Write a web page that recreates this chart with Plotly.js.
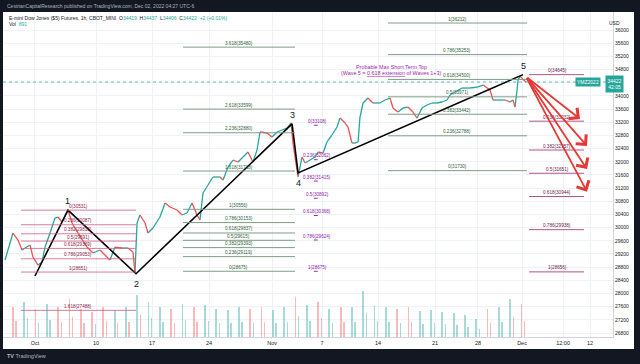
<!DOCTYPE html>
<html><head><meta charset="utf-8">
<script src="https://cdn.plot.ly/plotly-3.0.1.min.js"></script>
<style>html,body{margin:0;padding:0;background:#131722;}#chart{width:640px;height:364px;}</style>
</head><body><div id="chart"></div>
<script>
// ---------------- DATA ----------------
// x unit = trading session (day) index, 0 = session of Mon Oct 3
const priceDay = [-3.05,-2.35,-1.90,-1.55,-0.84,-0.58,-0.13,0.22,0.49,0.93,
1.37,1.64,1.99,2.52,2.88,3.41,4.20,4.73,5.35,5.97,
6.24,6.68,7.30,7.83,8.27,8.45,8.63,8.89,9.34,9.60,
10.04,10.66,11.11,11.55,12.17,12.61,13.05,13.50,13.94,14.20,
14.47,14.91,15.35,15.97,16.24,16.68,17.12,17.57,18.01,18.45,
18.89,19.25,19.51,20.13,20.58,21.02,21.46,21.90,22.26,22.43,
22.61,22.88,23.23,23.50,23.94,24.38,24.65,25.09,25.44,25.88,
26.33,26.59,27.04,27.30,27.65,27.92,28.19,28.36,28.63,29.07,
29.51,30.13,30.58,31.02,31.28,31.73,32.17,32.61,33.05,33.41,
33.85,34.29,34.73,35.18,35.62,36.06,36.33,36.77,37.39,38.10,
38.72,39.25,39.87,40.13,40.58,41.19,41.64,41.90,42.08,42.26,
42.35,42.52,42.79,43.05];
const priceClose = [29017,29836,29624,29320,29472,29108,28864,28956,29411,29836,
30292,30322,30170,30535,30140,29836,29411,29229,29320,29108,
29017,29411,29381,29381,29260,28622,30140,30383,30140,29836,
29988,30322,30747,30626,30535,30383,30444,30747,30383,30231,
31051,31294,31537,31537,31446,31840,32053,31992,32144,32296,
31992,32357,32903,32873,32751,32903,32964,33024,33180,32569,
32144,31550,32144,31962,32053,32144,32296,32265,32600,32812,
33055,33328,33176,33055,32569,32569,32600,33358,33784,33935,
33784,33784,33875,33935,33632,33510,33632,33662,33510,33328,
33632,33723,33784,33784,33814,33875,34026,34117,34239,34239,
34269,34330,34178,33875,33875,33875,33814,33875,33662,34178,
34481,34600,34500,34422];

const volDay = [-3,-2,-1,0,1,2,3,4,5,6,7,8,9,10,11,12,13,14,15,16,17,18,19,20,21,22,23,24,25,26,27,28,29,30,31,32,33,34,35,36,37,38,39,40,41,42];
// cash-open spike of each session
const volOpen = [25800,30100,24100,28400,25800,32700,24100,21500,25800,23200,
25800,36100,30100,25800,24100,28400,25800,27500,24100,23200,
25800,24100,25800,23200,25800,34400,27500,30100,24100,25800,
25800,39600,27500,25800,24100,25800,22400,23200,21500,20600,
18900,15500,24100,25800,32700,28400];
// cash-close spike of each session
const volClose = [14000,16000,12000,15000,13000,17000,12000,11000,14000,12000,
13000,19000,16000,13000,12000,15000,13000,14000,12000,12000,
13000,12000,13000,12000,13000,18000,14000,16000,12000,13000,
13000,21000,14000,13000,12000,13000,11000,12000,11000,10000,
9000,7000,12000,13000,17000,14000];

const waveDay   = [-0.40, 2.52, 8.54, 22.35, 22.88, 42.79];
const wavePrice = [28531, 30531, 28600, 33150, 31660, 34645];
const waveLabel = ['', '1', '2', '3', '4', '5'];

const timeTickDay  = [-0.40, 5.0, 9.96, 15.0, 20.58, 25.0, 29.96, 35.0, 38.8, 42.7, 46.33, 48.72];
const timeTickText = ['Oct','10','17','24','Nov','7','14','21','28','Dec','12:00','12'];
const priceTickVal = [26800,27200,27600,28000,28400,28800,29200,29600,30000,30400,30800,31200,31600,32000,32400,32800,33200,33600,34000,34400,34800,35200,35600,36000];
const priceTickText = ['26800','27200','27600','28000','28400','28800','29200','29600','30000','30400','30800','31200','31600','32000','32400','32800','33200','33600','34000','','34800','35200','35600','36000'];

const fibA_ratio = [0,0.236,0.382,0.5,0.618,0.786,1,1.618];
const fibA_price = [30531,30087,29813,29591,29369,29053,28651,27488];
const fibB_ratio = [0,0.236,0.382,0.5,0.618,0.786,1,1.618,2.236,2.618,3.618];
const fibB_price = [28675,29119,29393,29615,29837,30153,30556,31718,32880,33599,35480];
const fibC_ratio = [0,0.236,0.382,0.5,0.618,0.786,1];
const fibC_price = [33108,32062,31415,30892,30368,29624,28675];
const fibD_ratio = [0,0.236,0.382,0.5,0.618,0.786,1];
const fibD_price = [31730,32788,33442,33971,34500,35253,36212];
const fibE_ratio = [0,0.236,0.382,0.5,0.618,0.786,1];
const fibE_price = [34645,33232,32357,31651,30944,29938,28656];

const arrowTipDay   = [47.83, 48.45, 48.45, 48.45];
const arrowTipPrice = [33300, 32480, 31780, 31090];
const lastPrice = 34422;

// ---------------- LAYOUT HELPERS ----------------
const W = 640, H = 364, M = {l:3, r:27, t:12, b:27};
const pxX = p => (p - M.l) / (W - M.l - M.r);
const pxY = p => (H - M.b - p) / (H - M.t - M.b);
const UP = '#26a69a', DN = '#ef5350';
const FONT = 'Liberation Sans, Arial, sans-serif';

// price path split into up / down segments
const upX=[],upY=[],dnX=[],dnY=[];
for (let i=1;i<priceDay.length;i++){
  const up = priceClose[i] >= priceClose[i-1];
  (up?upX:dnX).push(priceDay[i-1], priceDay[i], null);
  (up?upY:dnY).push(priceClose[i-1], priceClose[i], null);
}
// volume colours from the price move around each spike
function volColors(xs){
  return xs.map(x => {
    let i = priceDay.findIndex(d => d > x);
    if (i <= 0) i = priceDay.length - 1;
    return priceClose[i] >= priceClose[i-1] ? 'rgba(38,166,154,0.4)' : 'rgba(239,83,80,0.4)';
  });
}
const volOpenX = volDay.map(d => d + 0.65);
const volCloseX = volDay.map(d => d + 0.93);

const traces = [
  {type:'bar', x:volOpenX, y:volOpen, yaxis:'y2', width:0.16, marker:{color:volColors(volOpenX), line:{width:0}}, hoverinfo:'skip'},
  {type:'bar', x:volCloseX, y:volClose, yaxis:'y2', width:0.12, marker:{color:volColors(volCloseX), line:{width:0}}, hoverinfo:'skip'},
  {type:'scatter', mode:'lines', x:upX, y:upY, line:{color:UP, width:1.3}, connectgaps:false, hoverinfo:'skip'},
  {type:'scatter', mode:'lines', x:dnX, y:dnY, line:{color:DN, width:1.3}, connectgaps:false, hoverinfo:'skip'},
  {type:'scatter', mode:'lines', x:waveDay, y:wavePrice, line:{color:'#000000', width:1.6}, hoverinfo:'skip'}
];

const shapes = [
  {type:'rect', xref:'paper', yref:'paper', x0:0, x1:pxX(634), y0:pxY(349), y1:1, fillcolor:'#ffffff', line:{width:0}, layer:'below'},
  {type:'line', xref:'paper', yref:'y', x0:0, x1:1, y0:lastPrice, y1:lastPrice, line:{color:'rgba(38,166,154,0.7)', width:1, dash:'dot'}}
];
const annotations = [];

const fibSets = [
  {r:fibA_ratio, p:fibA_price, x0:-1.64, x1:8.54,  xl:3.41,  line:'rgba(206,92,130,0.8)', text:'#8b1a4a'},
  {r:fibB_ratio, p:fibB_price, x0:12.70, x1:22.61, xl:17.65, line:'#7f9c86', text:'#2f5f3a'},
  {r:fibC_ratio, p:fibC_price, x0:24.28, x1:24.62, xl:24.56, line:'#9c27b0', text:'#8e24aa'},
  {r:fibD_ratio, p:fibD_price, x0:30.84, x1:43.14, xl:36.95, line:'#7f9c86', text:'#2f5f3a'},
  {r:fibE_ratio, p:fibE_price, x0:43.32, x1:48.19, xl:45.80, line:'#b0548a', text:'#6a1b4d'}
];
fibSets.forEach(s => {
  s.r.forEach((r,i) => {
    shapes.push({type:'line', xref:'x', yref:'y', x0:s.x0, x1:s.x1, y0:s.p[i], y1:s.p[i], line:{color:s.line, width:1}});
    annotations.push({xref:'x', yref:'y', x:s.xl, y:s.p[i], text:String(r)+'('+s.p[i]+')', showarrow:false,
      yshift:4, xanchor:'center', yanchor:'middle', font:{family:FONT, size:4.6, color:s.text}});
  });
});

waveLabel.forEach((t,i) => {
  if (!t) return;
  const above = (i % 2 === 1);
  annotations.push({xref:'x', yref:'y', x:waveDay[i], y:wavePrice[i], text:t, showarrow:false,
    yshift: above ? 9 : -10, font:{family:FONT, size:9, color:'#131722'}});
});

arrowTipDay.forEach((d,i) => {
  annotations.push({xref:'x', yref:'y', axref:'x', ayref:'y', x:d, y:arrowTipPrice[i], ax:waveDay[5]+0.25, ay:wavePrice[5]-60,
    text:'', showarrow:true, arrowhead:4, arrowsize:1.5, arrowwidth:1.8, arrowcolor:'#e53935'});
});

annotations.push(
  {xref:'x', yref:'y', x:31.19, y:34880, text:'Probable Max Short Term Top', showarrow:false, font:{family:FONT, size:5.4, color:'#9c27b0'}},
  {xref:'x', yref:'y', x:31.19, y:34700, text:'(Wave 5 = <span style="text-decoration:underline">0.618 extension</span> of Waves 1+3)', showarrow:false, font:{family:FONT, size:5.4, color:'#9c27b0'}},
  {xref:'paper', yref:'paper', x:pxX(5), y:pxY(6), xanchor:'left', yanchor:'middle', showarrow:false,
    text:'CestrianCapitalResearch published on TradingView.com, Dec 02, 2022 04:27 UTC-6', font:{family:FONT, size:5, color:'#b2b5be'}},
  {xref:'paper', yref:'paper', x:pxX(7), y:pxY(17.5), xanchor:'left', yanchor:'middle', showarrow:false,
    text:'E-mini Dow Jones ($5) Futures, 1h, CBOT_MINI  O<span style="color:#26a69a">34419</span>  H<span style="color:#26a69a">34437</span>  L<span style="color:#26a69a">34406</span>  C<span style="color:#26a69a">34422</span>  <span style="color:#26a69a">+2 (+0.01%)</span>',
    font:{family:FONT, size:5, color:'#131722'}},
  {xref:'paper', yref:'paper', x:pxX(7), y:pxY(24.5), xanchor:'left', yanchor:'middle', showarrow:false,
    text:'Vol  <span style="color:#26a69a">891</span>', font:{family:FONT, size:5, color:'#131722'}},
  {xref:'paper', yref:'paper', x:pxX(622), y:pxY(18), showarrow:false, text:'USD', font:{family:FONT, size:5, color:'#131722'}},
  {xref:'paper', yref:'y', x:pxX(624), y:lastPrice, yshift:-2.5, showarrow:false, text:'34422<br>42:05',
    bgcolor:UP, borderpad:1.5, font:{family:FONT, size:5, color:'#ffffff'}},
  {xref:'paper', yref:'y', x:pxX(601), y:lastPrice, showarrow:false, text:'YMZ2022',
    bgcolor:UP, borderpad:1, font:{family:FONT, size:5, color:'#ffffff'}},
  {xref:'paper', yref:'paper', x:pxX(5), y:pxY(356), xanchor:'left', yanchor:'middle', showarrow:false,
    text:'<b>TV</b> TradingView', font:{family:FONT, size:5.5, color:'#b2b5be'}}
);

const layout = {
  width:W, height:H, margin:M, showlegend:false,
  paper_bgcolor:'#131722', plot_bgcolor:'#ffffff',
  xaxis:{range:[-3.23, 50.75], tickmode:'array', tickvals:timeTickDay, ticktext:timeTickText,
    showgrid:true, gridcolor:'#eef1f7', zeroline:false, ticks:'', showline:true, linecolor:'#d1d4dc',
    tickfont:{family:FONT, size:5.5, color:'#131722'}, fixedrange:true},
  yaxis:{side:'right', range:[26679, 36547], tickmode:'array', tickvals:priceTickVal, ticktext:priceTickText,
    showgrid:true, gridcolor:'#eef1f7', zeroline:false, ticks:'', showline:true, linecolor:'#d1d4dc',
    tickfont:{family:FONT, size:5, color:'#131722'}, fixedrange:true},
  yaxis2:{overlaying:'y', range:[0, 280000], visible:false, fixedrange:true},
  barmode:'overlay', bargap:0, shapes:shapes, annotations:annotations
};
Plotly.newPlot('chart', traces, layout, {staticPlot:true, displayModeBar:false});
</script></body></html>
